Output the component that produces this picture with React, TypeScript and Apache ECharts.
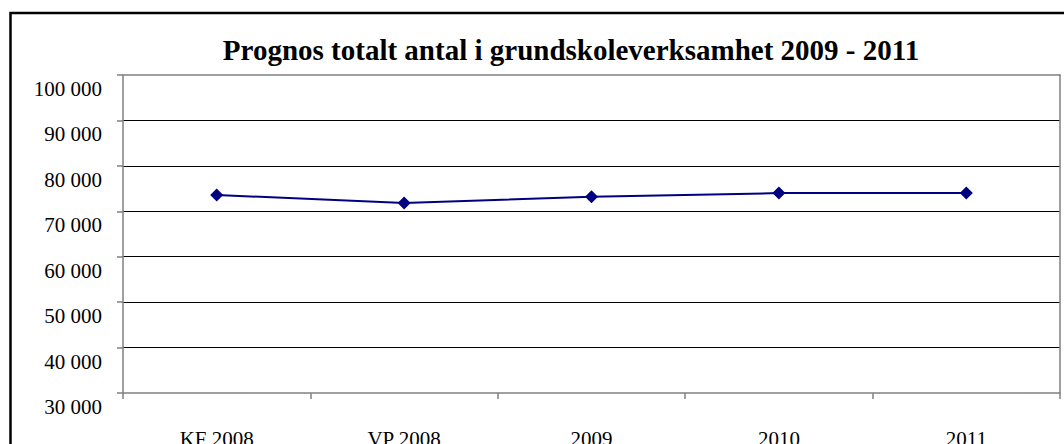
import React, { useEffect, useRef } from "react";
import * as echarts from "echarts";

const categories = ["KF 2008", "VP 2008", "2009", "2010", "2011"];
const values = [73600, 71800, 73200, 74000, 74000];
const yMin = 30000;
const yMax = 100000;
const yStep = 10000;
const title = "Prognos totalt antal i grundskoleverksamhet 2009 - 2011";

const fmt = (v: number) => {
  const s = String(Math.round(v));
  return s.replace(/\B(?=(\d{3})+(?!\d))/g, " ");
};

export default function App() {
  const ref = useRef<HTMLDivElement>(null);
  useEffect(() => {
    if (!ref.current) return;
    const chart = echarts.init(ref.current, undefined, { renderer: "svg", width: 1064, height: 444 });
    const font = "Liberation Serif, Times New Roman, serif";
    chart.setOption({
      animation: false,
      backgroundColor: "#ffffff",
      textStyle: { fontFamily: font },
      title: {
        text: title,
        left: 571,
        top: 35,
        padding: 0,
        textAlign: "center",
        textStyle: { fontFamily: font, fontSize: 29, fontWeight: "bold", color: "#000" },
      },
      graphic: [
        {
          type: "rect",
          shape: { x: 10.5, y: 13, width: 1064, height: 500 },
          style: { fill: "none", stroke: "#000", lineWidth: 2.5 },
          silent: true,
        },
      ],
      grid: {
        left: 123,
        right: 4,
        top: 75,
        bottom: 51,
        containLabel: false,
        outerBoundsMode: "none",
      },
      xAxis: [
        {
          type: "category",
          data: categories,
          boundaryGap: true,
          position: "bottom",
          axisLine: { show: true, lineStyle: { color: "#808080", width: 1.5 } },
          axisTick: { show: true, length: 6, lineStyle: { color: "#808080", width: 1.5 }, alignWithLabel: false },
          axisLabel: { fontFamily: font, fontSize: 21, color: "#000", margin: 35 },
          splitLine: { show: false },
        },
        {
          type: "category",
          data: categories,
          position: "top",
          axisLine: { show: true, lineStyle: { color: "#808080", width: 1.5 } },
          axisTick: { show: false },
          axisLabel: { show: false },
        },
      ],
      yAxis: [
        {
          type: "value",
          min: yMin,
          max: yMax,
          interval: yStep,
          axisLine: { show: true, lineStyle: { color: "#808080", width: 1.5 } },
          axisTick: { show: true, length: 6, lineStyle: { color: "#808080", width: 1.5 } },
          axisLabel: {
            fontFamily: font,
            fontSize: 21,
            color: "#000",
            margin: 21,
            verticalAlign: "top",
            lineHeight: 28,
            formatter: fmt,
          },
          splitLine: { show: true, showMinLine: false, showMaxLine: false, lineStyle: { color: "#000", width: 1 } },
        },
        {
          type: "value",
          min: yMin,
          max: yMax,
          interval: yStep,
          position: "right",
          axisLine: { show: true, lineStyle: { color: "#808080", width: 1.5 } },
          axisTick: { show: false },
          axisLabel: { show: false },
          splitLine: { show: false },
        },
      ],
      series: [
        {
          type: "line",
          data: values,
          xAxisIndex: 0,
          yAxisIndex: 0,
          symbol: "diamond",
          symbolSize: 13,
          itemStyle: { color: "#000080" },
          lineStyle: { color: "#000080", width: 2 },
        },
      ],
    });
    return () => chart.dispose();
  }, []);
  return (
    <div
      ref={ref}
      style={{ position: "absolute", left: 0, top: 0, width: 1064, height: 444 }}
    />
  );
}
